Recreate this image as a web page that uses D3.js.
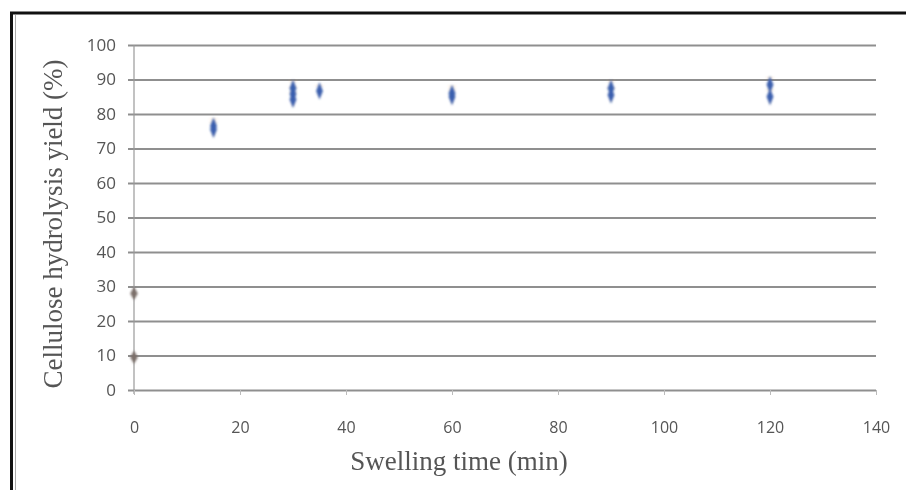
<!DOCTYPE html>
<html><head><meta charset="utf-8">
<script src="https://cdn.jsdelivr.net/npm/d3@7"></script>
<style>html,body{margin:0;padding:0;background:#fff;}svg{display:block;}</style>
</head><body>
<svg id="c" width="906" height="490"></svg>
<script>
const xTicks = [0, 20, 40, 60, 80, 100, 120, 140];
const yTicks = [0, 10, 20, 30, 40, 50, 60, 70, 80, 90, 100];
const controlTime = [0, 0];
const controlYield = [28, 9.5];
const swellingTime = [15, 15, 30, 30, 30, 35, 60, 60, 90, 90, 120, 120];
const yieldVals = [76.5, 75.5, 87.5, 85.8, 84.2, 86.7, 86, 85, 87.5, 85.5, 88.5, 85];
const yieldErr = [2, 2, 2, 2, 2, 1.5, 2, 2, 2, 2, 2, 2];

const svg = d3.select("#c");
const m = {l: 134, r: 876, t: 45, b: 390};
const x = d3.scaleLinear().domain([0, 140]).range([m.l, m.r]);
const y = d3.scaleLinear().domain([0, 100]).range([m.b, m.t]);

const defs = svg.append("defs");
defs.append("filter").attr("id", "blur").attr("x", "-50%").attr("y", "-50%").attr("width", "200%").attr("height", "200%")
  .append("feGaussianBlur").attr("stdDeviation", 1.3);
defs.append("filter").attr("id", "blurT")
  .append("feGaussianBlur").attr("stdDeviation", 0.4);

// frame
svg.append("rect").attr("x", 11.5).attr("y", 13).attr("width", 900).attr("height", 490).attr("fill", "none").attr("stroke", "#111").attr("stroke-width", 3);
svg.append("line").attr("x1", 15.5).attr("x2", 15.5).attr("y1", 15).attr("y2", 490).attr("stroke", "#aaa").attr("stroke-width", 1);

// gridlines via axis
const gy = svg.append("g").attr("transform", `translate(${m.l},0)`)
  .call(d3.axisLeft(y).tickValues(yTicks).tickSize(-(m.r - m.l)).tickFormat(""));
gy.select(".domain").remove();
gy.selectAll(".tick line").attr("stroke", "#8f8f8f").attr("stroke-width", 1.8).attr("x1", -6);

// y axis line
svg.append("line").attr("x1", m.l).attr("x2", m.l).attr("y1", m.t).attr("y2", m.b + 4).attr("stroke", "#999").attr("stroke-width", 1.2);

// y tick labels
const yl = svg.append("g").attr("transform", `translate(${m.l},0)`)
  .call(d3.axisLeft(y).tickValues(yTicks).tickSize(0).tickPadding(18));
yl.select(".domain").remove();
yl.selectAll("text").attr("font-family", "Open Sans, sans-serif").attr("font-size", 17).attr("fill", "#555").attr("filter", "url(#blurT)");

// x axis ticks & labels
const xa = svg.append("g").attr("transform", `translate(0,${m.b})`)
  .call(d3.axisBottom(x).tickValues(xTicks).tickSize(5).tickPadding(27));
xa.select(".domain").remove();
xa.selectAll(".tick line").attr("stroke", "#bbb");
xa.selectAll("text").attr("font-family", "Open Sans, sans-serif").attr("font-size", 16).attr("fill", "#555").attr("filter", "url(#blurT)");

// axis titles
svg.append("text").attr("x", 459).attr("y", 470).attr("text-anchor", "middle")
  .attr("font-family", "Liberation Serif, serif").attr("font-size", 27).attr("fill", "#555").attr("filter", "url(#blurT)")
  .text("Swelling time (min)");
svg.append("text").attr("transform", `translate(62,224) rotate(-90)`).attr("text-anchor", "middle")
  .attr("font-family", "Liberation Serif, serif").attr("font-size", 27).attr("fill", "#555").attr("filter", "url(#blurT)")
  .text("Cellulose hydrolysis yield (%)");

// error bars (faint)
const eb = svg.append("g").attr("opacity", 0.35).attr("filter", "url(#blur)");
swellingTime.forEach((t, i) => {
  eb.append("line").attr("x1", x(t)).attr("x2", x(t)).attr("y1", y(yieldVals[i] + yieldErr[i])).attr("y2", y(yieldVals[i] - yieldErr[i]))
    .attr("stroke", "#f0b070").attr("stroke-width", 1.2);
  eb.append("line").attr("x1", x(t) - 4).attr("x2", x(t) + 4).attr("y1", y(yieldVals[i] + yieldErr[i])).attr("y2", y(yieldVals[i] + yieldErr[i]))
    .attr("stroke", "#f0b070").attr("stroke-width", 1);
});

const diamond = d3.symbol().type(d3.symbolDiamond).size(50);
const pts = svg.append("g").attr("filter", "url(#blur)");
swellingTime.forEach((t, i) => {
  pts.append("path").attr("d", diamond).attr("transform", `translate(${x(t)},${y(yieldVals[i])}) scale(0.9,1.3)`)
    .attr("fill", "#3a5fae");
});
controlTime.forEach((t, i) => {
  pts.append("path").attr("d", diamond).attr("transform", `translate(${x(t)},${y(controlYield[i])}) scale(1,1)`)
    .attr("fill", "#7c6f6a");
});
</script>
</body></html>
